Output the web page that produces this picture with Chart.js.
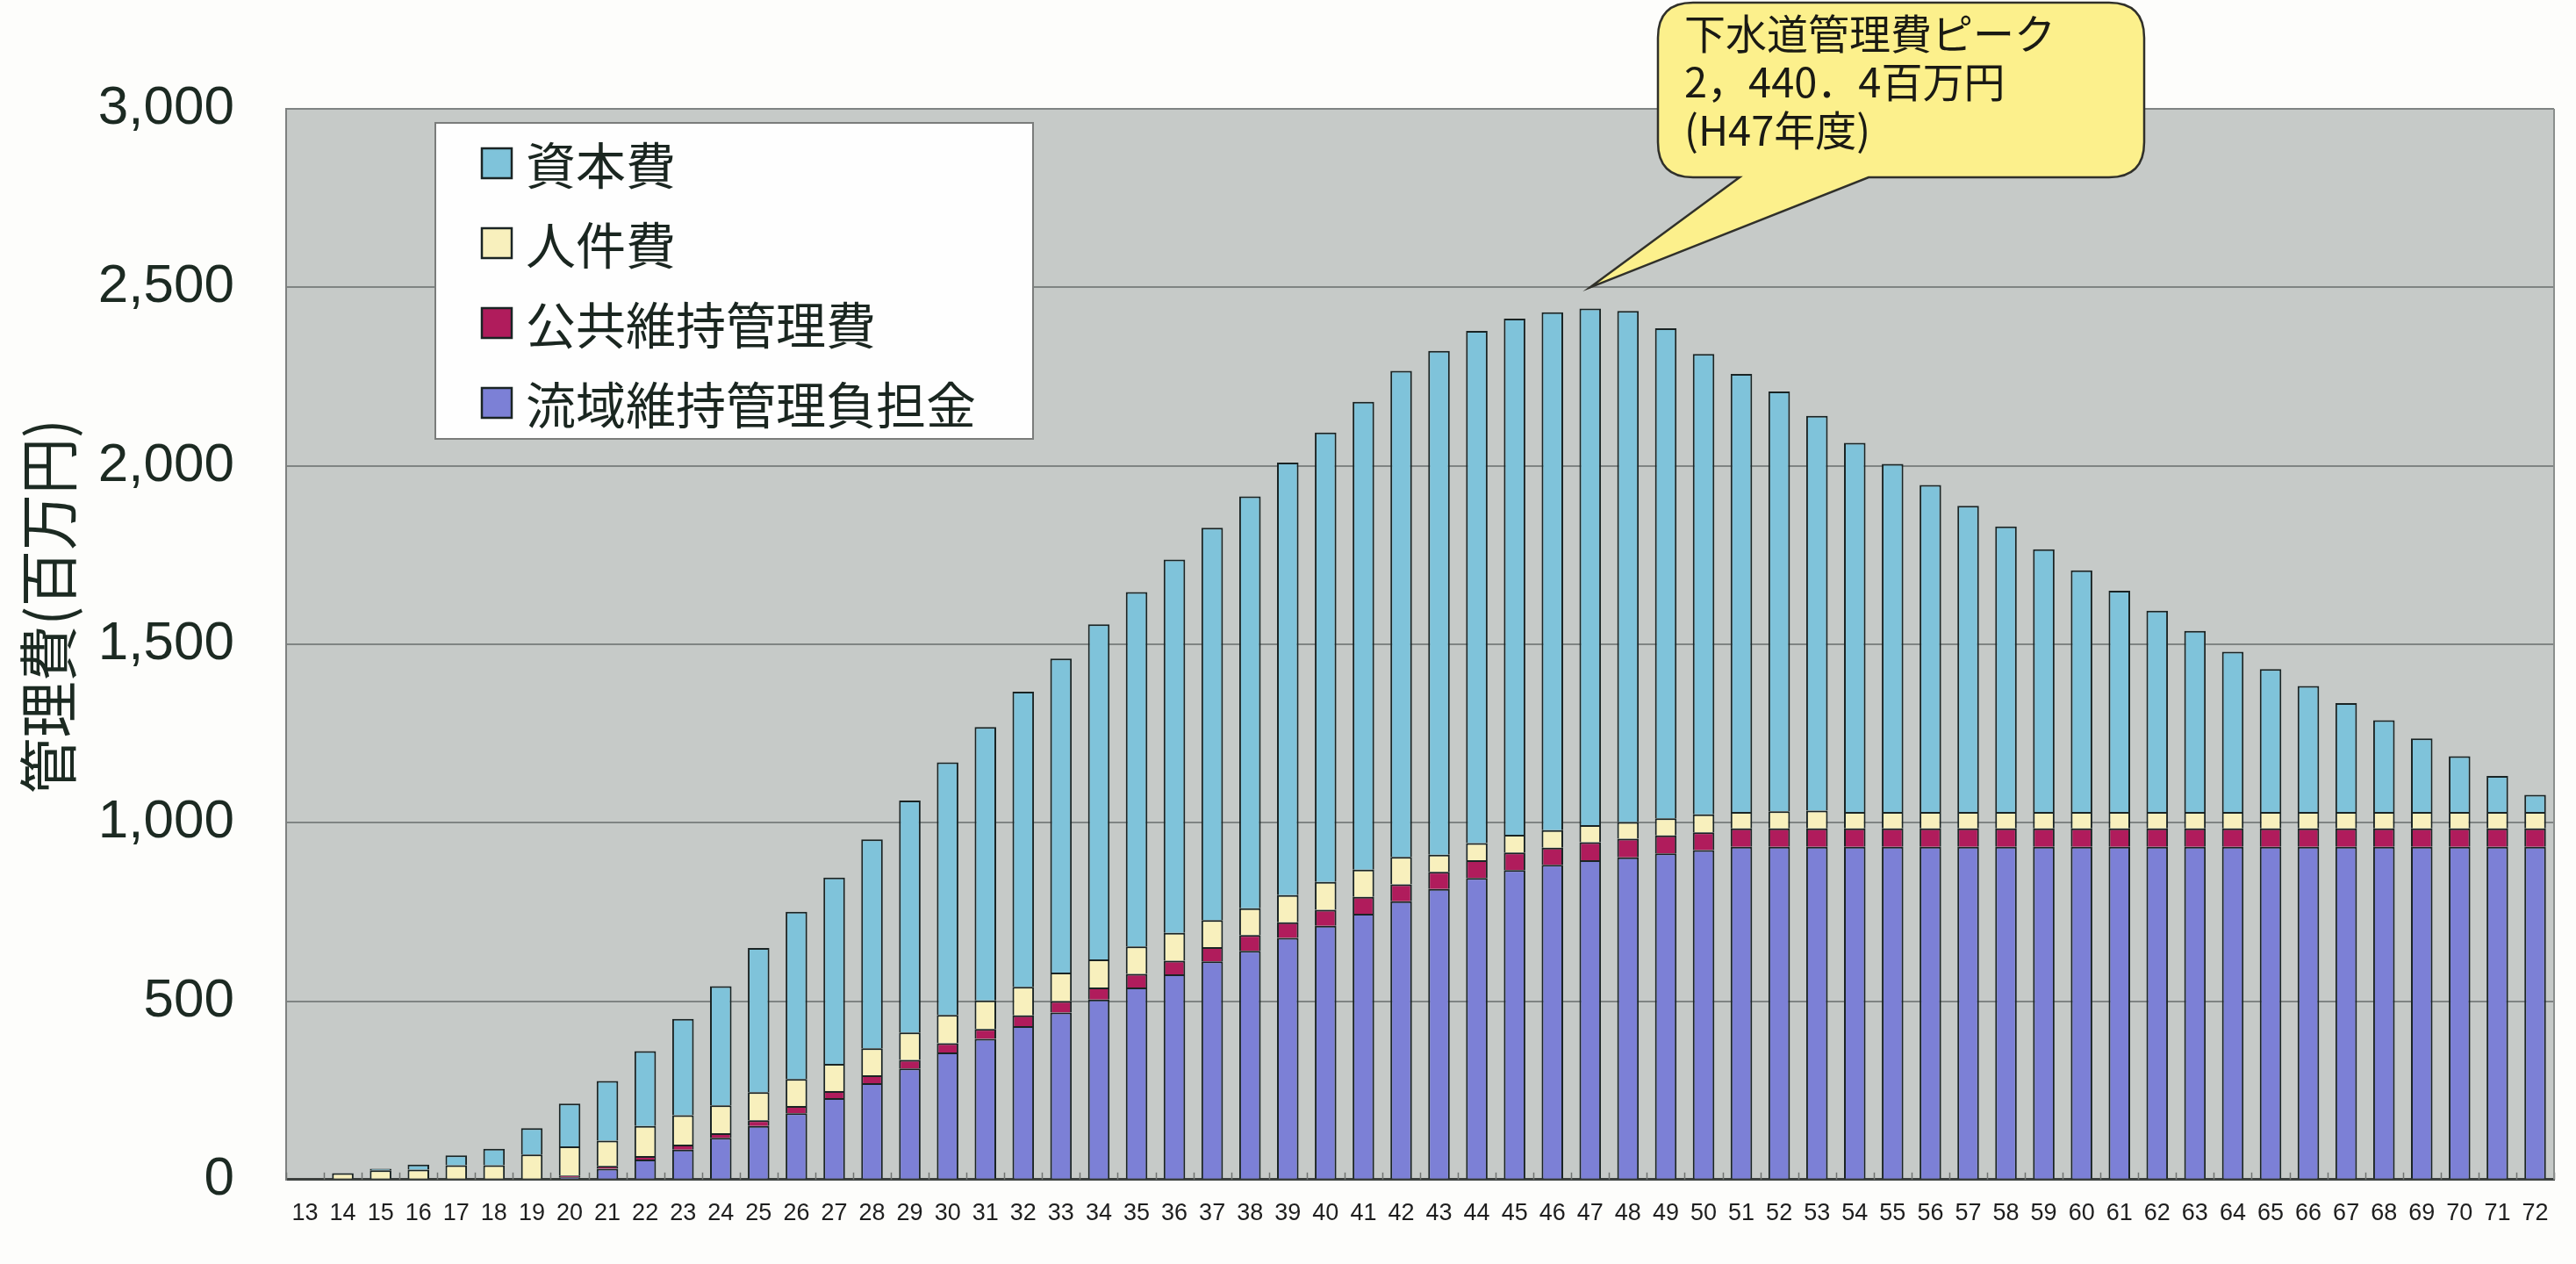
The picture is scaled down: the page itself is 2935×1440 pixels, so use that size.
<!DOCTYPE html>
<html>
<head>
<meta charset="utf-8">
<script src="https://cdn.jsdelivr.net/npm/chart.js@4.4.1/dist/chart.umd.min.js"></script>
<style>
html,body{margin:0;padding:0;background:#fdfdfb;}
#wrap{width:2935px;height:1440px;position:relative;}
canvas{display:block;}
</style>
</head>
<body>
<div id="wrap"><canvas id="c" width="2935" height="1440"></canvas></div>
<script>
// ---- data (H13 .. H72 fiscal years) ----
const categories = ['13','14','15','16','17','18','19','20','21','22','23','24','25','26','27','28','29','30','31','32','33','34','35','36','37','38','39','40','41','42','43','44','45','46','47','48','49','50','51','52','53','54','55','56','57','58','59','60','61','62','63','64','65','66','67','68','69','70','71','72'];

const seriesNames = ['流域維持管理負担金','公共維持管理費','人件費','資本費'];

const ryuikiFutankin = [0,0,0,0,0,0,0,6,30,56,84,117,150,186,228,270,311,356,394,430,468,504,538,575,611,641,677,711,745,780,814,845,867,882,895,903,914,923,932,932,932,932,932,932,932,932,932,932,932,932,932,932,932,932,932,932,932,932,932,932];

const kokyoIjiKanri = [0,0,0,0,0,0,0,5,8,10,14,13,16,20,20,22,24,26,28,30,32,34,38,38,40,44,44,45,47,47,48,50,49,48,50,52,50,50,52,52,52,52,52,52,52,52,52,52,52,52,52,52,52,52,52,52,52,52,52,52];

const jinkenhi = [0,18,26,28,40,40,70,82,71,84,82,78,79,76,76,76,77,79,80,80,80,79,77,78,76,75,76,78,76,77,48,48,50,49,48,47,48,50,46,48,50,46,46,46,46,46,46,46,46,46,46,46,46,46,46,46,46,46,46,46];

const shihonhi = [0,0,4,14,28,46,74,120,167,210,270,334,404,468,522,585,650,708,766,827,880,939,993,1046,1099,1154,1212,1259,1311,1362,1412,1435,1446,1451,1447.4,1432,1373,1290,1227,1176,1106,1034,975,916,858,800,736,677,620,564,507,449,400,353,305,257,206,156,101,48];

const yTickValues = [0,500,1000,1500,2000,2500,3000];
const yAxisTitle = '管理費(百万円)';
const peakCategory = '47';
const peakPointerValue = 2500;
const peakText = ['下水道管理費ピーク','2，440．4百万円','(H47年度)'];

// ---- styles ----
const LATIN = "'Liberation Sans','Arial',sans-serif";
const CJK = "'Noto Sans CJK JP','Noto Sans CJK SC',sans-serif";
const colors = {
  '流域維持管理負担金':'#7c80d6',
  '公共維持管理費':'#b01c5c',
  '人件費':'#f8f0bd',
  '資本費':'#7fc3da'
};
const seriesData = {
  '流域維持管理負担金': ryuikiFutankin,
  '公共維持管理費': kokyoIjiKanri,
  '人件費': jinkenhi,
  '資本費': shihonhi
};

const datasets = seriesNames.map(name => ({
  label: name,
  data: seriesData[name],
  backgroundColor: colors[name],
  borderColor: '#1a2424',
  borderWidth: 2,
  barPercentage: 0.57,
  categoryPercentage: 1.0
}));

const bgPlugin = {
  id: 'bgPlugin',
  beforeDraw(chart) {
    const {ctx, chartArea: a} = chart;
    ctx.save();
    ctx.fillStyle = '#fdfdfb';
    ctx.fillRect(0, 0, chart.width, chart.height);
    ctx.fillStyle = '#c6cac8';
    ctx.fillRect(a.left, a.top, a.right - a.left, a.bottom - a.top);
    ctx.restore();
  },
  beforeDatasetsDraw(chart) {
    // small category separator marks on the baseline
    const {ctx, chartArea: a, scales: {x: xs}} = chart;
    ctx.save();
    ctx.strokeStyle = '#6f7371';
    ctx.lineWidth = 1.5;
    const half = (xs.getPixelForValue(1) - xs.getPixelForValue(0)) / 2;
    for (let i = 0; i <= categories.length; i++) {
      const px = Math.round(xs.getPixelForValue(i) - half) + 0.5;
      ctx.beginPath();
      ctx.moveTo(px, a.bottom);
      ctx.lineTo(px, a.bottom - 8);
      ctx.stroke();
    }
    ctx.restore();
  },
  afterDraw(chart) {
    const {ctx, chartArea: a} = chart;
    ctx.save();
    // right frame
    ctx.strokeStyle = '#8a8e8c';
    ctx.lineWidth = 2;
    ctx.beginPath();
    ctx.moveTo(a.right, a.top); ctx.lineTo(a.right, a.bottom);
    ctx.stroke();

    // ---- y axis title ----
    ctx.save();
    ctx.translate(53, (a.top + a.bottom) / 2 - 43);
    ctx.rotate(-Math.PI / 2);
    ctx.scale(1, 1.06);
    ctx.font = '64px ' + CJK;
    ctx.fillStyle = '#1c2a22';
    ctx.textAlign = 'center';
    ctx.textBaseline = 'middle';
    ctx.fillText(yAxisTitle, 0, 2);
    ctx.restore();

    // ---- legend box ----
    const lx = a.left + 170, ly = a.top + 16, lw = 681, lh = 360;
    ctx.fillStyle = '#fefefe';
    ctx.fillRect(lx, ly, lw, lh);
    ctx.strokeStyle = '#7a7c7b';
    ctx.lineWidth = 2;
    ctx.strokeRect(lx, ly, lw, lh);
    const items = chart.data.datasets.slice().reverse();
    ctx.font = '57px ' + CJK;
    ctx.textBaseline = 'middle';
    ctx.textAlign = 'left';
    items.forEach((ds, i) => {
      const cy = ly + 46 + i * 91;
      ctx.fillStyle = ds.backgroundColor;
      ctx.fillRect(lx + 53, cy - 17, 34, 34);
      ctx.strokeStyle = '#1a2424';
      ctx.lineWidth = 2.5;
      ctx.strokeRect(lx + 53, cy - 17, 34, 34);
      ctx.fillStyle = '#1a2620';
      ctx.fillText(ds.label, lx + 103, cy + 2);
    });

    // ---- callout ----
    const xs = chart.scales.x, ys = chart.scales.y;
    const tipX = xs.getPixelForValue(categories.indexOf(peakCategory));
    const tipY = ys.getPixelForValue(peakPointerValue);
    const bx = 1889, by = 3, bw = 554, bh = 199, r = 40;
    const p1 = 1982, p2 = 2129;
    ctx.beginPath();
    ctx.moveTo(bx + r, by);
    ctx.lineTo(bx + bw - r, by);
    ctx.quadraticCurveTo(bx + bw, by, bx + bw, by + r);
    ctx.lineTo(bx + bw, by + bh - r);
    ctx.quadraticCurveTo(bx + bw, by + bh, bx + bw - r, by + bh);
    ctx.lineTo(p2, by + bh);
    ctx.lineTo(tipX, tipY);
    ctx.lineTo(p1, by + bh);
    ctx.lineTo(bx + r, by + bh);
    ctx.quadraticCurveTo(bx, by + bh, bx, by + bh - r);
    ctx.lineTo(bx, by + r);
    ctx.quadraticCurveTo(bx, by, bx + r, by);
    ctx.closePath();
    ctx.fillStyle = '#fcf08c';
    ctx.fill();
    ctx.strokeStyle = '#30302a';
    ctx.lineWidth = 2.5;
    ctx.stroke();
    ctx.fillStyle = '#1a1a14';
    ctx.font = '47px ' + CJK;
    ctx.textBaseline = 'middle';
    peakText.forEach((t, i) => ctx.fillText(t, bx + 30, by + 35 + i * 55));
    ctx.restore();
  }
};

new Chart(document.getElementById('c'), {
  type: 'bar',
  data: { labels: categories, datasets },
  options: {
    responsive: false,
    devicePixelRatio: 1,
    animation: false,
    layout: { padding: { left: 0, right: 25, top: 124, bottom: 0 } },
    plugins: { legend: { display: false }, tooltip: { enabled: false } },
    scales: {
      x: {
        stacked: true,
        grid: { display: false, drawTicks: false },
        border: { display: true, color: '#3c403e', width: 3 },
        ticks: { autoSkip: false, maxRotation: 0, minRotation: 0, padding: 23, color: '#1e1e1e', font: { family: LATIN, size: 27 } },
        afterFit: (s) => { s.height = 66; }
      },
      y: {
        stacked: true,
        min: 0, max: 3000,
        grid: { color: '#7f8483', lineWidth: 2, drawTicks: false },
        border: { display: true, color: '#7d807f', width: 2 },
        ticks: { padding: 59, color: '#1c2a22', font: { family: LATIN, size: 62 }, callback: v => v.toLocaleString('en-US') },
        afterBuildTicks: (s) => { s.ticks = yTickValues.map(v => ({ value: v })); },
        afterFit: (s) => { s.width = 326; },
        title: { display: false }
      }
    }
  },
  plugins: [bgPlugin]
});
</script>
</body>
</html>
